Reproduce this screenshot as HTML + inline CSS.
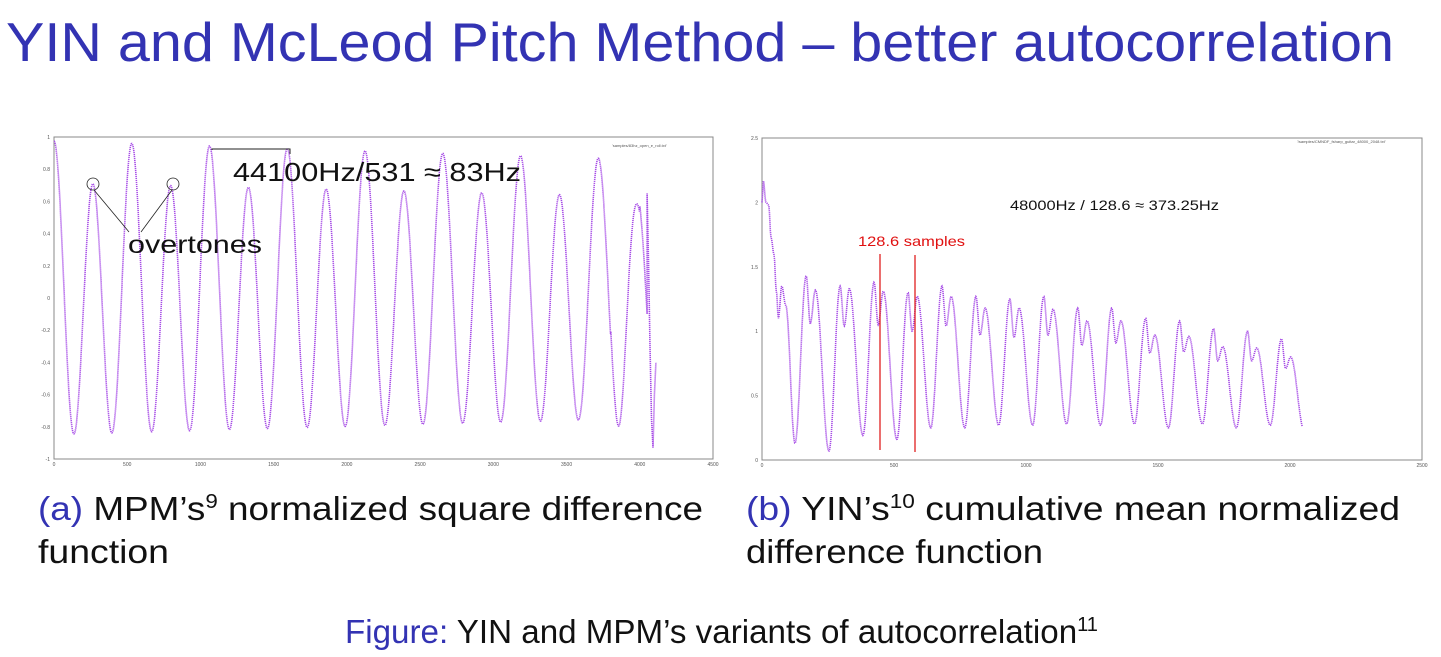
<!DOCTYPE html>
<html><head><meta charset="utf-8"><style>
html,body{margin:0;padding:0;background:#fff;}
svg{display:block;}
text{font-family:"Liberation Sans","DejaVu Sans",sans-serif;}
</style></head><body>
<svg id="s" width="1441" height="657" viewBox="0 0 1441 657" xmlns="http://www.w3.org/2000/svg">
<text x="6" y="61" font-size="55" fill="#3333b3" textLength="1388" lengthAdjust="spacingAndGlyphs">YIN and McLeod Pitch Method – better autocorrelation</text>

<rect x="54" y="137" width="659" height="322" fill="none" stroke="#888" stroke-width="1"/>
<g id="lt" font-size="5" fill="#555"></g>
<path id="lc" fill="none" stroke="#a64be6" stroke-width="1.6" stroke-dasharray="1.2 0.8"/>
<text x="612" y="147" font-size="4" fill="#555">'samples/83hz_open_e_roll.txt'</text>
<text x="233" y="181" font-size="26" fill="#111" textLength="288" lengthAdjust="spacingAndGlyphs">44100Hz/531 ≈ 83Hz</text>
<polyline points="212,150 212,149 290,149 290,154" fill="none" stroke="#222" stroke-width="1"/>
<circle cx="93" cy="184" r="6" fill="none" stroke="#222" stroke-width="0.8"/>
<circle cx="173" cy="184" r="6" fill="none" stroke="#222" stroke-width="0.8"/>
<line x1="94" y1="190" x2="129" y2="232" stroke="#222" stroke-width="0.8"/>
<line x1="172" y1="190" x2="141" y2="232" stroke="#222" stroke-width="0.8"/>
<text x="128" y="253" font-size="25" fill="#111" textLength="134" lengthAdjust="spacingAndGlyphs">overtones</text>

<rect x="762" y="138" width="660" height="322" fill="none" stroke="#888" stroke-width="1"/>
<g id="rt" font-size="5" fill="#555"></g>
<path id="rc" fill="none" stroke="#a64be6" stroke-width="1.6" stroke-dasharray="1.2 0.8"/>
<text x="1297" y="143" font-size="4" fill="#555">'/samples/CMNDF_fsharp_guitar_48000_2048.txt'</text>
<text x="1010" y="210" font-size="14" fill="#111" textLength="209" lengthAdjust="spacingAndGlyphs">48000Hz / 128.6 ≈ 373.25Hz</text>
<text x="858" y="246" font-size="14" fill="#e01010" textLength="107" lengthAdjust="spacingAndGlyphs">128.6 samples</text>
<line x1="880" y1="254" x2="880" y2="450" stroke="#e02020" stroke-width="1.3"/>
<line x1="915" y1="255" x2="915" y2="452" stroke="#e02020" stroke-width="1.3"/>

<text x="38" y="520" font-size="33" fill="#111" textLength="665" lengthAdjust="spacingAndGlyphs"><tspan fill="#3333b3">(a)</tspan> MPM’s<tspan font-size="20" dy="-12">9</tspan><tspan dy="12"> normalized square difference</tspan></text>
<text x="38" y="563" font-size="33" fill="#111" textLength="131" lengthAdjust="spacingAndGlyphs">function</text>
<text x="746" y="520" font-size="33" fill="#111" textLength="654" lengthAdjust="spacingAndGlyphs"><tspan fill="#3333b3">(b)</tspan> YIN’s<tspan font-size="20" dy="-12">10</tspan><tspan dy="12"> cumulative mean normalized</tspan></text>
<text x="746" y="563" font-size="33" fill="#111" textLength="297" lengthAdjust="spacingAndGlyphs">difference function</text>
<text x="345" y="643" font-size="33" fill="#111" textLength="753" lengthAdjust="spacingAndGlyphs"><tspan fill="#3333b3">Figure:</tspan> YIN and MPM’s variants of autocorrelation<tspan font-size="20" dy="-12">11</tspan></text>
</svg>
<script>
(function(){
var NS="http://www.w3.org/2000/svg";
function T(g,x,y,s,a){var t=document.createElementNS(NS,"text");t.setAttribute("x",x);t.setAttribute("y",y);t.setAttribute("text-anchor",a);t.textContent=s;g.appendChild(t);}
var L={x0:54,x1:713,y0:459,y1:137};
function lx(v){return L.x0+(L.x1-L.x0)*v/4500;}
function ly(v){return L.y0+(L.y1-L.y0)*(v+1)/2;}
var lt=document.getElementById("lt");
for(var i=0;i<=9;i++){T(lt,lx(i*500),466,String(i*500),"middle");}
for(var v=-1;v<=1.001;v+=0.2){var vv=Math.round(v*10)/10;T(lt,L.x0-4,ly(vv)+2,String(vv),"end");}
var d="",x,y;
for(x=0;x<=4050;x+=2){
 var a=1-x/4050*0.12;
 y=a*(0.845*Math.cos(2*Math.PI*x/265.5)+0.13*Math.cos(2*Math.PI*x/531));
 if(x>3800&&x<4000) y+=0.05*Math.sin(x/20);
 d+=(x?"L":"M")+lx(x).toFixed(1)+","+ly(y).toFixed(1);
}
var tail=[[4050,0.65],[4060,0.2],[4070,-0.3],[4080,-0.75],[4090,-0.93],[4100,-0.6],[4110,-0.4]];
tail.forEach(function(p){d+="L"+lx(p[0]).toFixed(1)+","+ly(p[1]).toFixed(1);});
document.getElementById("lc").setAttribute("d",d);
var R={x0:762,x1:1422,y0:460,y1:138};
function rx(v){return R.x0+(R.x1-R.x0)*v/2500;}
function ry(v){return R.y0+(R.y1-R.y0)*v/2.5;}
var rt=document.getElementById("rt");
for(i=0;i<=5;i++){T(rt,rx(i*500),467,String(i*500),"middle");}
["0","0.5","1","1.5","2","2.5"].forEach(function(s,k){T(rt,R.x0-4,ry(k*0.5)+2,s,"end");});
var mins=[0.13,0.07,0.19,0.16,0.25,0.25,0.27,0.27,0.28,0.27,0.28,0.25,0.28,0.25,0.27,0.23];
var P1=[1.43,1.35,1.38,1.30,1.35,1.27,1.25,1.27,1.18,1.18,1.10,1.08,1.02,1.0,0.94,0.89];
var D=[1.06,1.04,1.05,1.0,1.04,0.97,0.95,0.97,0.89,0.91,0.83,0.84,0.77,0.77,0.71,0.68];
var P2=[1.32,1.33,1.31,1.27,1.27,1.18,1.18,1.17,1.08,1.08,0.97,0.96,0.88,0.87,0.80,0.77];
var pts=[[0,2.0],[5,2.17],[15,2.0],[25,1.98],[35,1.72],[45,1.6],[55,1.3],[62,1.1],[75,1.35],[90,1.2],[125,0.13]];
var P=128.6,s0=125;
for(var k=0;k<16;k++){
 var b=s0+k*P;
 pts.push([b+0.33*P,P1[k]]);pts.push([b+0.45*P,D[k]]);pts.push([b+0.6*P,P2[k]]);
 if(k<15) pts.push([b+P,mins[k+1]]);
}
pts.push([2047,0.62]);
function interp(xx){
 for(var j=0;j<pts.length-1;j++){
  if(xx>=pts[j][0]&&xx<=pts[j+1][0]){
   var t=(xx-pts[j][0])/(pts[j+1][0]-pts[j][0]);
   var tt=(1-Math.cos(Math.PI*t))/2;
   return pts[j][1]+(pts[j+1][1]-pts[j][1])*tt;
  }}
 return pts[pts.length-1][1];
}
d="";
for(x=0;x<=2047;x+=2){y=interp(x);d+=(x?"L":"M")+rx(x).toFixed(1)+","+ry(y).toFixed(1);}
document.getElementById("rc").setAttribute("d",d);
})();
</script>
</body></html>
